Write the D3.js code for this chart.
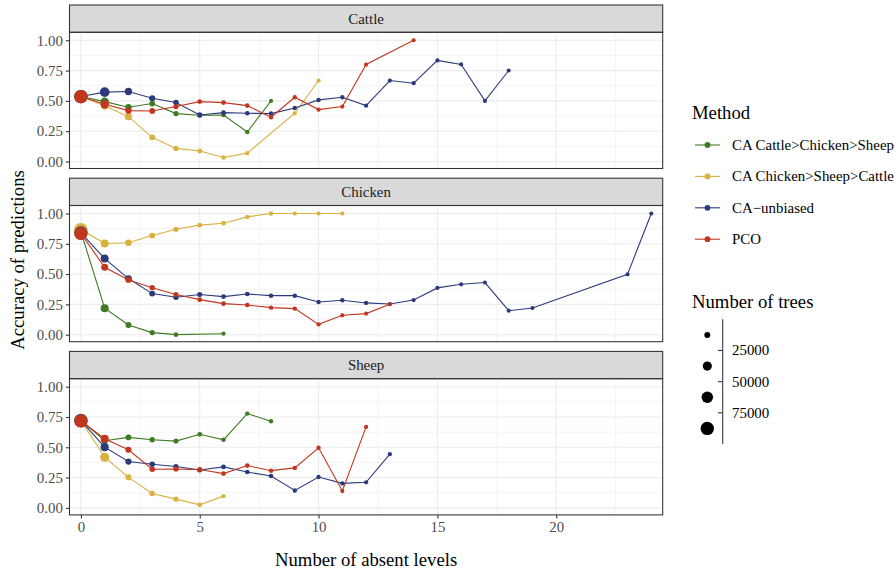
<!DOCTYPE html>
<meta charset="utf-8">
<style>
  body { margin: 0; background: #fff; }
  svg { font-family: "Liberation Serif", "Times New Roman", serif; }
  .grid-major { stroke: #ebebeb; stroke-width: 1.07; fill: none; }
  .grid-minor { stroke: #ebebeb; stroke-width: 0.53; fill: none; }
  .axis text { fill: #4d4d4d; font-size: 14.9px; font-family: "Liberation Serif", serif; }
  .axis line { stroke: #333; stroke-width: 1.07; }
  .axis .domain { display: none; }
  .border { fill: none; stroke: #333; stroke-width: 1.07; }
  .strip { fill: #d9d9d9; stroke: #333; stroke-width: 1.07; }
  .strip-text { fill: #1a1a1a; font-size: 14.9px; text-anchor: middle; }
  .title { fill: #000; font-size: 18.7px; }
  .legend-text { fill: #000; font-size: 14.9px; }
</style>

<svg class="chart" width="895" height="573"></svg>

<script src="https://d3js.org/d3.v7.min.js"></script>
<script>

  // facets, methods, tick values
  var species = ["Cattle", "Chicken", "Sheep"];
  var methods = ["CA Cattle>Chicken>Sheep", "CA Chicken>Sheep>Cattle", "CA\u2212unbiased", "PCO"];
  var methodColors = ["#3f7b22", "#d8b13f", "#2c3a7c", "#c0361f"];
  var xTicks = [0, 5, 10, 15, 20];
  var yTicks = [0, 0.25, 0.5, 0.75, 1];
  var sizeBreaks = [25000, 50000, 75000];
  var sizeKeys = [12500, 37500, 62500, 87500];

  // accuracy, indexed by number of absent levels (null = no point)
  var cattleCCS = [0.536, 0.494, 0.448, 0.478, 0.395, 0.381, 0.384, 0.243, 0.500];
  var cattleCSC = [0.536, 0.459, 0.370, 0.199, 0.108, 0.086, 0.033, 0.069, null, 0.398, 0.668];
  var cattleUnb = [0.536, 0.572, 0.577, 0.522, 0.486, 0.384, 0.403, 0.398, 0.395, 0.442, 0.508, 0.530, 0.461, 0.668, 0.646, 0.834, 0.801, 0.500, 0.751];
  var cattlePCO = [0.536, 0.472, 0.420, 0.417, 0.453, 0.494, 0.486, 0.461, 0.365, 0.530, 0.428, 0.453, 0.800, null, 1.000];

  var chickenCCS = [0.850, 0.218, 0.080, 0.017, 0.000, null, 0.008];
  var chickenCSC = [0.868, 0.752, 0.758, 0.818, 0.870, 0.904, 0.920, 0.972, 1.000, 1.000, 1.000, 1.000];
  var chickenUnb = [0.840, 0.628, 0.463, 0.339, 0.309, 0.331, 0.314, 0.336, 0.322, 0.322, 0.270, 0.284, 0.262, 0.253, 0.286, 0.386, 0.416, 0.430, 0.198, 0.220, null, null, null, 0.498, 1.000];
  var chickenPCO = [0.835, 0.556, 0.452, 0.388, 0.331, 0.289, 0.256, 0.245, 0.223, 0.215, 0.085, 0.160, 0.174, 0.251];

  var sheepCCS = [0.723, 0.554, 0.582, 0.562, 0.551, 0.607, 0.562, 0.778, 0.715];
  var sheepCSC = [0.720, 0.418, 0.252, 0.119, 0.072, 0.025, 0.097];
  var sheepUnb = [0.720, 0.501, 0.382, 0.360, 0.341, 0.313, 0.338, 0.296, 0.263, 0.144, 0.255, 0.202, 0.211, 0.443];
  var sheepPCO = [0.717, 0.571, 0.479, 0.319, 0.321, 0.316, 0.283, 0.349, 0.307, 0.330, 0.496, 0.139, 0.668];

  // number of trees behind each point (same indexing)
  var cattleCCSTrees = [85000, 30000, 15000, 11000, 8000, 6000, 5000, 4000, 3000];
  var cattleCSCTrees = [85000, 24000, 20000, 12000, 8000, 6000, 5000, 4000, null, 3000, 3000];
  var cattleUnbTrees = [85000, 42000, 22000, 13000, 10000, 8000, 6000, 5000, 4500, 4000, 4000, 3500, 3500, 3000, 3000, 3000, 2500, 2500, 2500];
  var cattlePCOTrees = [85000, 30000, 15000, 11000, 8000, 6000, 5000, 4500, 4000, 3500, 3500, 3000, 3000, null, 2500];

  var chickenCCSTrees = [85000, 27000, 12000, 8000, 5000, null, 3000];
  var chickenCSCTrees = [85000, 27000, 16000, 11000, 8000, 6000, 5000, 4000, 3500, 3000, 3000, 2500];
  var chickenUnbTrees = [85000, 27000, 18000, 12000, 9000, 7000, 6000, 5000, 4500, 4000, 4000, 3500, 3500, 3000, 3000, 3000, 3000, 2500, 2500, 2500, null, null, null, 2500, 2500];
  var chickenPCOTrees = [85000, 19000, 12000, 9000, 7000, 6000, 5000, 4500, 4000, 3500, 3500, 3000, 3000, 3000];

  var sheepCCSTrees = [85000, 16000, 12000, 9000, 7000, 6000, 5000, 4000, 3500];
  var sheepCSCTrees = [85000, 36000, 13000, 9000, 7000, 5000, 4000];
  var sheepUnbTrees = [85000, 28000, 14000, 10000, 8000, 7000, 6000, 5000, 4500, 4000, 3500, 3500, 3000, 3000];
  var sheepPCOTrees = [85000, 28000, 13000, 10000, 8000, 7000, 6000, 5000, 4500, 4000, 3500, 3000, 3000];

  var accuracy = [
    [cattleCCS, cattleCSC, cattleUnb, cattlePCO],
    [chickenCCS, chickenCSC, chickenUnb, chickenPCO],
    [sheepCCS, sheepCSC, sheepUnb, sheepPCO]
  ];
  var trees = [
    [cattleCCSTrees, cattleCSCTrees, cattleUnbTrees, cattlePCOTrees],
    [chickenCCSTrees, chickenCSCTrees, chickenUnbTrees, chickenPCOTrees],
    [sheepCCSTrees, sheepCSCTrees, sheepUnbTrees, sheepPCOTrees]
  ];

  var svg = d3.select(".chart");

  var panelLeft = 69.5, panelRight = 662.7,
      stripTop = 5, stripH = 27.3, panelH = 136.2, panelStep = 173.2;

  var x = d3.scaleLinear().domain([-0.48, 24.48]).range([panelLeft, panelRight]);
  var y = d3.scaleLinear().domain([-0.058, 1.066]).range([panelH, 0]);
  var color = d3.scaleOrdinal().domain(methods).range(methodColors);
  var size = d3.scaleRadial().domain([0, 100000]).range([1.74, 7.13]);

  var line = d3.line()
      .x(function (d) { return x(d.level); })
      .y(function (d) { return y(d.acc); });

  species.forEach(function (sp, si) {
    var top = stripTop + si * panelStep;

    // strip
    svg.append("rect")
        .attr("class", "strip")
        .attr("x", panelLeft).attr("y", top)
        .attr("width", panelRight - panelLeft).attr("height", stripH);
    svg.append("text")
        .attr("class", "strip-text")
        .attr("x", (panelLeft + panelRight) / 2)
        .attr("y", top + stripH / 2 + 5)
        .text(sp);

    var g = svg.append("g")
        .attr("transform", "translate(0," + (top + stripH) + ")");

    // grid
    var minorX = d3.range(2.5, 25, 5);
    var minorY = d3.range(0.125, 1, 0.25);
    g.selectAll(".gx-minor").data(minorX).enter().append("line")
        .attr("class", "grid-minor")
        .attr("x1", x).attr("x2", x).attr("y1", 0).attr("y2", panelH);
    g.selectAll(".gy-minor").data(minorY).enter().append("line")
        .attr("class", "grid-minor")
        .attr("x1", panelLeft).attr("x2", panelRight).attr("y1", y).attr("y2", y);
    g.selectAll(".gx-major").data(xTicks).enter().append("line")
        .attr("class", "grid-major")
        .attr("x1", x).attr("x2", x).attr("y1", 0).attr("y2", panelH);
    g.selectAll(".gy-major").data(yTicks).enter().append("line")
        .attr("class", "grid-major")
        .attr("x1", panelLeft).attr("x2", panelRight).attr("y1", y).attr("y2", y);

    var series = methods.map(function (m, mi) {
      var pts = [];
      accuracy[si][mi].forEach(function (v, i) {
        if (v != null) pts.push({ level: i, acc: v, trees: trees[si][mi][i], method: m });
      });
      return { method: m, points: pts };
    });

    // lines first, then points
    g.selectAll(".series-line").data(series).enter().append("path")
        .attr("fill", "none")
        .attr("stroke", function (d) { return color(d.method); })
        .attr("stroke-width", 1.1)
        .attr("d", function (d) { return line(d.points); });

    series.forEach(function (s) {
      g.selectAll(null).data(s.points).enter().append("circle")
          .attr("cx", function (d) { return x(d.level); })
          .attr("cy", function (d) { return y(d.acc); })
          .attr("r", function (d) { return size(d.trees); })
          .attr("fill", color(s.method));
    });

    g.append("rect")
        .attr("class", "border")
        .attr("x", panelLeft).attr("y", 0)
        .attr("width", panelRight - panelLeft).attr("height", panelH);

    g.append("g")
        .attr("class", "axis")
        .attr("transform", "translate(" + panelLeft + ",0)")
        .call(d3.axisLeft(y).tickValues(yTicks).tickFormat(d3.format(".2f"))
          .tickSize(3.67).tickPadding(2.93));

    if (si === species.length - 1) {
      g.append("g")
          .attr("class", "axis")
          .attr("transform", "translate(0," + panelH + ")")
          .call(d3.axisBottom(x).tickValues(xTicks).tickSize(3.67).tickPadding(2.93));
    }
  });

  // axis titles
  svg.append("text")
      .attr("class", "title")
      .attr("x", (panelLeft + panelRight) / 2)
      .attr("y", 566)
      .attr("text-anchor", "middle")
      .text("Number of absent levels");
  svg.append("text")
      .attr("class", "title")
      .attr("transform", "translate(24,260) rotate(-90)")
      .attr("text-anchor", "middle")
      .text("Accuracy of predictions");

  // method legend
  var lg = svg.append("g").attr("transform", "translate(692,0)");
  lg.append("text").attr("class", "title").attr("x", 0).attr("y", 119).text("Method");
  var keyY = d3.scaleLinear().domain([0, 1]).range([145, 176.4]);
  methods.forEach(function (m, i) {
    var ky = keyY(i);
    lg.append("line")
        .attr("x1", 3).attr("x2", 28).attr("y1", ky).attr("y2", ky)
        .attr("stroke", color(m)).attr("stroke-width", 1.1);
    lg.append("circle").attr("cx", 15.5).attr("cy", ky).attr("r", 2.9).attr("fill", color(m));
    lg.append("text").attr("class", "legend-text")
        .attr("x", 40).attr("y", ky + 5).text(m);
  });

  // size legend
  lg.append("text").attr("class", "title").attr("x", 0).attr("y", 308).text("Number of trees");
  var binY = d3.scaleLinear().domain([0, 4]).range([319.3, 444]);
  lg.append("line")
      .attr("x1", 30.7).attr("x2", 30.7).attr("y1", binY(0)).attr("y2", binY(4))
      .attr("stroke", "#333").attr("stroke-width", 1.07);
  sizeKeys.forEach(function (k, i) {
    lg.append("circle").attr("cx", 15.3).attr("cy", binY(i + 0.5))
        .attr("r", size(k)).attr("fill", "#000");
  });
  sizeBreaks.forEach(function (b, i) {
    var by = binY(i + 1);
    lg.append("line").attr("x1", 26).attr("x2", 30.7).attr("y1", by).attr("y2", by)
        .attr("stroke", "#333").attr("stroke-width", 1.07);
    lg.append("text").attr("class", "legend-text")
        .attr("x", 40).attr("y", by + 5).text(b);
  });

</script>
